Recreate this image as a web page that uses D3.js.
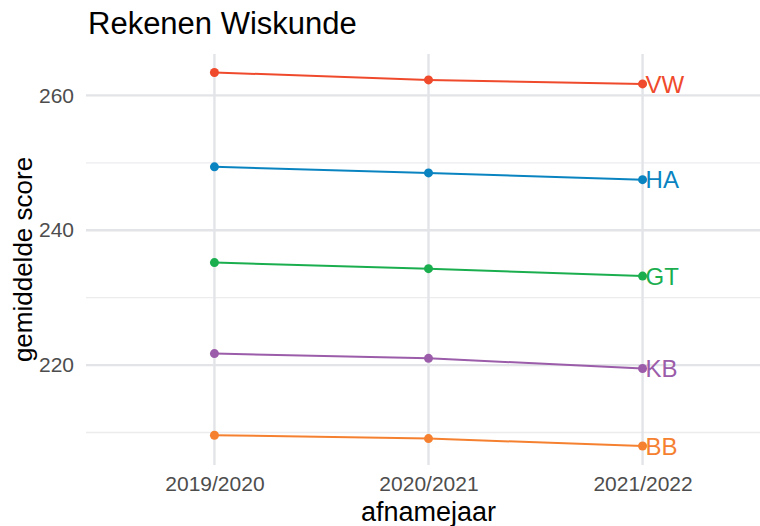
<!DOCTYPE html>
<html>
<head>
<meta charset="utf-8">
<script src="https://cdn.jsdelivr.net/npm/d3@7"></script>
<style>
body{margin:0;background:#fff;font-family:"Liberation Sans",Arial,sans-serif;}
</style>
</head>
<body>
<script>
var years=['2019/2020','2020/2021','2021/2022'];
var groups=['VW','HA','GT','KB','BB'];
var vwScores=[263.4,262.3,261.7];
var haScores=[249.4,248.5,247.5];
var gtScores=[235.2,234.3,233.2];
var kbScores=[221.7,221.0,219.5];
var bbScores=[209.6,209.1,208.0];
var yTicks=[220,240,260];
var yMinor=[210,230,250];

var colors={VW:'#EF4A2C',HA:'#0A84C1',GT:'#1BAE4F',KB:'#9B5CA9',BB:'#F58130'};
var series=[vwScores,haScores,gtScores,kbScores,bbScores].map(function(v,i){
    return {name:groups[i],values:v};
});

var width=760,height=526;
var pLeft=86,pRight=771,pTop=54,pBottom=465;

var svg=d3.select('body').append('svg')
.attr('width',width)
.attr('height',height);

var x=d3.scaleLinear()
.domain([-0.6,2.6])
.range([pLeft,pRight]);

var y=d3.scaleLinear()
.domain([205.18,266.14])
.range([pBottom,pTop]);

var grid=svg.append('g');
grid.selectAll('.minor')
.data(yMinor)
.enter()
.append('line')
.attr('x1',pLeft).attr('x2',pRight)
.attr('y1',d=>y(d)).attr('y2',d=>y(d))
.style('stroke','#ECECEF')
.style('stroke-width',1.3);

grid.selectAll('.major')
.data(yTicks)
.enter()
.append('line')
.attr('x1',pLeft).attr('x2',pRight)
.attr('y1',d=>y(d)).attr('y2',d=>y(d))
.style('stroke','#E3E4E8')
.style('stroke-width',2.4);

grid.selectAll('.vert')
.data(years)
.enter()
.append('line')
.attr('x1',(d,i)=>x(i)).attr('x2',(d,i)=>x(i))
.attr('y1',pTop).attr('y2',pBottom)
.style('stroke','#E3E4E8')
.style('stroke-width',2.4);

// y axis labels
var yAxis=d3.axisLeft(y).tickValues(yTicks).tickSize(0).tickPadding(12);
svg.append('g')
.attr('transform','translate('+pLeft+',0)')
.call(yAxis)
.call(g=>g.select('.domain').remove())
.selectAll('text')
.style('font-family','"Liberation Sans",Arial,sans-serif')
.style('font-size','21px')
.style('fill','#4D4D4D');

// x axis labels
var xAxis=d3.axisBottom(x).tickValues([0,1,2]).tickFormat(i=>years[i]).tickSize(0).tickPadding(11);
svg.append('g')
.attr('transform','translate(0,'+pBottom+')')
.call(xAxis)
.call(g=>g.select('.domain').remove())
.selectAll('text')
.style('font-family','"Liberation Sans",Arial,sans-serif')
.style('font-size','21px')
.style('fill','#4D4D4D');

var line=d3.line()
.x((d,i)=>x(i))
.y(d=>y(d));

var lines=svg.append('g');
series.forEach(function(s){
    lines.append('path')
    .attr('d',line(s.values))
    .style('fill','none')
    .style('stroke',colors[s.name])
    .style('stroke-width',2);

    lines.selectAll(null)
    .data(s.values)
    .enter()
    .append('circle')
    .attr('cx',(d,i)=>x(i))
    .attr('cy',d=>y(d))
    .attr('r',4.5)
    .style('fill',colors[s.name]);

    lines.append('text')
    .attr('x',x(2)+3)
    .attr('y',y(s.values[2]))
    .attr('dy','0.36em')
    .style('font-size','24px')
    .style('fill',colors[s.name])
    .text(s.name);
});

svg.append('text')
.attr('x',88)
.attr('y',34)
.style('font-size','31px')
.style('fill','#000')
.text('Rekenen Wiskunde');

svg.append('text')
.attr('x',(pLeft+pRight)/2)
.attr('y',521)
.attr('text-anchor','middle')
.style('font-size','27px')
.style('fill','#000')
.text('afnamejaar');

svg.append('text')
.attr('transform','translate(32,'+((pTop+pBottom)/2)+') rotate(-90)')
.attr('text-anchor','middle')
.style('font-size','26px')
.style('fill','#000')
.text('gemiddelde score');
</script>
</body>
</html>
